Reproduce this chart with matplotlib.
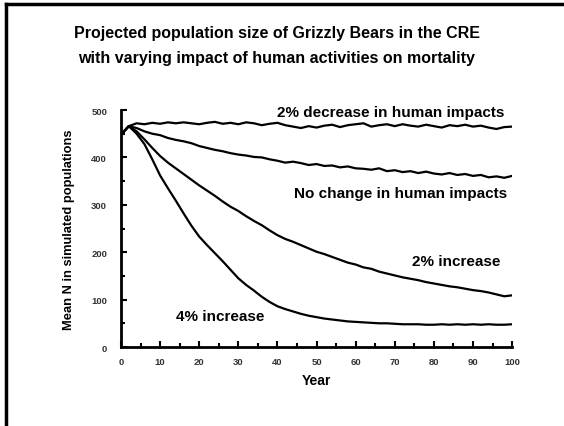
import matplotlib
matplotlib.use('Agg')
import matplotlib.pyplot as plt
from matplotlib.lines import Line2D
from matplotlib.ticker import MultipleLocator

plt.rcParams['font.family'] = ['Liberation Sans', 'DejaVu Sans']
plt.rcParams['font.weight'] = 'bold'

# Simulated mean population size, one value every 2 years
years = list(range(0, 101, 2))

dec2 = [448, 466, 472, 470, 473, 471, 474, 472, 474, 472, 470, 473, 475, 471,
        473, 470, 474, 472, 468, 471, 473, 468, 465, 462, 466, 463, 467, 469,
        464, 468, 470, 472, 465, 468, 470, 466, 470, 467, 465, 469, 466, 463,
        468, 466, 469, 465, 467, 463, 460, 464, 465]

none = [448, 466, 462, 455, 450, 447, 441, 437, 434, 430, 424, 420, 416, 413,
        409, 406, 404, 401, 400, 396, 393, 389, 391, 388, 384, 386, 382, 383,
        379, 381, 377, 376, 374, 377, 371, 373, 369, 371, 367, 370, 366, 364,
        367, 363, 365, 361, 363, 358, 360, 357, 361]

inc2 = [448, 466, 455, 438, 420, 403, 389, 377, 365, 353, 341, 330, 319, 307,
        296, 287, 276, 266, 257, 246, 236, 228, 222, 215, 208, 201, 196, 190,
        184, 178, 174, 168, 165, 159, 155, 151, 147, 144, 141, 137, 134, 131,
        128, 126, 123, 120, 118, 115, 111, 107, 109]

inc4 = [448, 466, 450, 428, 396, 362, 335, 309, 282, 256, 233, 215, 198, 181,
        163, 145, 131, 119, 106, 95, 86, 80, 75, 70, 66, 63, 60, 58, 56, 54,
        53, 52, 51, 50, 50, 49, 48, 48, 48, 47, 47, 48, 47, 48, 47, 48, 47,
        48, 47, 47, 48]

labels = ['2% decrease in human impacts', 'No change in human impacts',
          '2% increase', '4% increase']

fig = plt.figure(figsize=(5.64, 4.27), dpi=100)
ax = fig.add_axes([0.2145, 0.185, 0.6935, 0.555])

for series in (dec2, none, inc2, inc4):
    ax.plot(years, series, color='black', linewidth=1.6)

ax.set_xlim(0, 100)
ax.set_ylim(0, 500)
ax.xaxis.set_major_locator(MultipleLocator(10))
ax.xaxis.set_minor_locator(MultipleLocator(5))
ax.yaxis.set_major_locator(MultipleLocator(100))
ax.yaxis.set_minor_locator(MultipleLocator(50))
ax.tick_params(which='both', direction='in', width=1.5, labelsize=6.8,
               labelcolor='#333333')
ax.tick_params(axis='y', pad=10)
ax.tick_params(axis='x', pad=7)
ax.tick_params(which='major', length=4)
ax.tick_params(which='minor', length=3)
for side in ('top', 'right'):
    ax.spines[side].set_visible(False)
for side in ('left', 'bottom'):
    ax.spines[side].set_linewidth(2)

ax.set_xlabel('Year', fontsize=10, fontweight='bold', labelpad=5)
ax.set_ylabel('Mean N in simulated populations', fontsize=9.3,
              fontweight='bold', labelpad=12)

# curve labels
ax.text(69, 496, labels[0], fontsize=11, ha='center', va='center')
ax.text(71.6, 325, labels[1], fontsize=11, ha='center', va='center')
ax.text(85.7, 181, labels[2], fontsize=11, ha='center', va='center')
ax.text(25.3, 65, labels[3], fontsize=11, ha='center', va='center')

fig.text(0.491, 0.922, 'Projected population size of Grizzly Bears in the CRE',
         fontsize=11.5, ha='center', va='center')
fig.text(0.491, 0.864, 'with varying impact of human activities on mortality',
         fontsize=11.5, ha='center', va='center')

# outer frame (left and top edges)
fig.add_artist(Line2D([0.0105, 0.0105], [0, 0.988], transform=fig.transFigure,
                      color='black', linewidth=2.5))
fig.add_artist(Line2D([0.0105, 1.0], [0.988, 0.988], transform=fig.transFigure,
                      color='black', linewidth=2.5))

fig.savefig('out.png', dpi=100)
